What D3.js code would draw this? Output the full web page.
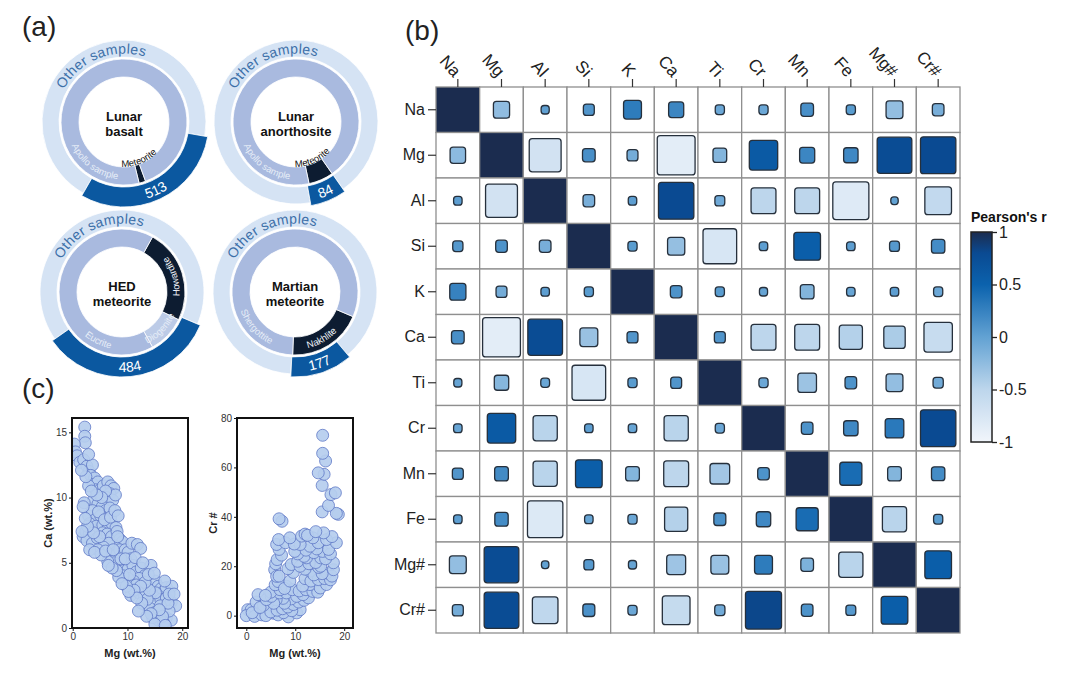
<!DOCTYPE html>
<html><head><meta charset="utf-8">
<script src="https://cdn.jsdelivr.net/npm/d3@7"></script>
<style>
body{margin:0;background:#fff;}
svg{font-family:Arial,"Liberation Sans",Helvetica,sans-serif;}
</style></head><body>
<svg id="c" width="1080" height="689"></svg>
<script>
// ---------------- DATA ----------------
// (a) donuts
const donutTitles = [["Lunar","basalt"],["Lunar","anorthosite"],["HED","meteorite"],["Martian","meteorite"]];
const outerCounts = ["513","84","484","177"];
const outerShare = [30.5, 6.9, 33.9, 11.9];          // % of outer ring taken by counted samples
const innerNames = [["Meteorite","Apollo sample"],["Meteorite","Apollo sample"],["Howardite","Diogenite","Eucrite"],["Nakhlite","Shergottite"]];
const innerShare = [[1.7,98.3],[6.4,93.6],[24.2,9.7,66.1],[19.2,80.8]];

// (b) correlation matrix
const vars = ["Na","Mg","Al","Si","K","Ca","Ti","Cr","Mn","Fe","Mg#","Cr#"];
const rNa  = [1, -0.25, 0.02, 0.1, 0.3, 0.22, -0.05, -0.05, 0.15, 0.05, -0.27, -0.12];
const rMg  = [-0.23, 1, -0.7, 0.15, -0.1, -0.87, -0.18, 0.6, 0.22, 0.2, 0.78, 0.8];
const rAl  = [0.03, -0.7, 1, -0.12, 0.03, 0.8, -0.07, -0.5, -0.5, -0.82, 0.0, -0.55];
const rSi  = [0.08, 0.12, -0.12, 1, 0.05, -0.28, -0.75, 0.03, 0.55, 0.03, 0.07, 0.17];
const rK   = [0.25, -0.1, 0.03, 0.05, 1, 0.12, 0.05, -0.02, -0.18, -0.03, 0.03, -0.05];
const rCa  = [0.15, -0.87, 0.78, -0.3, 0.1, 1, 0.1, -0.5, -0.5, -0.45, -0.4, -0.6];
const rTi  = [-0.02, -0.2, -0.04, -0.75, 0.05, 0.1, 1, -0.05, -0.32, 0.12, -0.27, -0.08];
const rCr  = [-0.03, 0.6, -0.48, 0.03, -0.03, -0.48, -0.05, 1, 0.12, 0.2, 0.32, 0.8];
const rMn  = [0.1, 0.18, -0.48, 0.55, -0.18, -0.5, -0.35, 0.12, 1, 0.42, -0.18, 0.17];
const rFe  = [0.03, 0.17, -0.8, -0.03, -0.05, -0.45, 0.13, 0.2, 0.42, 1, -0.48, 0.05];
const rMgN = [-0.27, 0.78, 0.0, 0.07, -0.02, -0.33, -0.3, 0.3, -0.15, -0.48, 1, 0.55];
const rCrN = [-0.1, 0.78, -0.52, 0.13, -0.05, -0.58, -0.08, 0.82, 0.12, 0.07, 0.55, 1];
const corr = [rNa,rMg,rAl,rSi,rK,rCa,rTi,rCr,rMn,rFe,rMgN,rCrN];
const cbTicks = [1, 0.5, 0, -0.5, -1];
const cbTickLabels = ["1","0.5","0","-0.5","-1"];

// (c) scatter data: [Mg, Ca] and [Mg, Cr#]
const mgCa = [[2.2,15.4],[2.2,14.7],[2.3,14.2],[0.3,14.1],[0.5,13.5],[0.8,13.2],[1.3,12.7],[2.0,12.9],[2.6,12.4],[3.0,12.0],[3.6,12.5],[3.3,11.7],[4.0,11.5],[3.7,11.0],[4.6,11.2],[4.2,10.6],[5.0,10.6],[5.6,10.9],[6.4,11.2],[7.0,10.9],[7.5,10.7],[6.8,10.3],[6.2,10.0],[7.3,9.8],[7.8,10.2],[3.8,9.8],[2.1,9.6],[4.6,9.5],[5.4,9.3],[6.0,9.0],[6.8,9.2],[2.9,8.6],[3.6,9.0],[4.1,8.3],[5.1,8.6],[3.1,8.0],[4.3,7.8],[5.5,7.9],[6.5,7.7],[7.2,8.0],[7.9,7.7],[1.9,7.0],[2.4,7.4],[3.0,7.2],[2.6,6.7],[3.6,6.5],[4.5,6.9],[5.5,7.3],[6.3,7.2],[7.1,7.0],[8.1,7.4],[8.6,6.8],[9.1,6.6],[7.6,6.3],[6.6,6.5],[5.6,6.2],[4.6,6.0],[3.1,6.0],[7.0,5.6],[8.0,5.6],[8.6,6.0],[9.6,6.0],[10.1,5.8],[10.8,6.5],[11.8,6.4],[12.4,6.1],[10.6,5.3],[9.1,5.1],[7.6,5.0],[6.4,5.1],[8.6,4.6],[9.3,4.4],[10.1,4.5],[11.0,4.8],[11.6,4.3],[12.5,4.6],[13.1,4.0],[12.1,3.8],[11.1,3.6],[10.1,3.8],[9.2,4.0],[8.4,3.9],[11.6,3.3],[10.6,2.5],[12.1,2.7],[13.1,2.4],[14.3,4.8],[13.6,3.3],[14.6,3.0],[15.1,3.6],[15.6,3.2],[16.1,3.0],[16.6,2.8],[17.1,3.1],[18.1,3.2],[14.6,2.5],[15.1,2.0],[16.1,2.2],[17.1,2.3],[18.0,2.0],[18.8,1.7],[13.1,1.8],[14.1,1.5],[15.1,1.2],[16.1,1.0],[17.1,0.8],[18.0,0.6],[15.6,0.6],[16.6,0.4],[14.6,0.8],[17.6,1.3],[16.0,1.7],[15.1,2.7],[13.6,2.2],[12.6,1.9],[16.4,0.9],[17.4,1.9],[14.0,2.9],[13.2,3.5],[12.4,3.2],[11.2,2.9],[9.8,3.2],[10.4,4.1],[8.8,5.3],[5.2,5.6],[4.0,5.8],[6.0,5.9],[7.4,6.0],[4.9,7.0],[3.8,7.3],[2.7,7.8],[1.7,7.4],[2.3,8.4],[1.9,9.3],[4.7,8.9],[5.8,8.3],[6.9,8.5],[7.7,9.0],[8.3,8.6],[6.0,10.5],[5.3,10.0],[4.4,10.2],[2.9,10.9],[2.4,11.6],[1.6,12.1],[2.9,13.3],[8.2,7.0],[9.6,5.3],[11.4,5.4],[12.8,5.0],[13.8,4.1],[14.9,4.2],[16.8,3.6],[17.6,2.6],[18.5,2.6],[15.8,1.4],[14.3,1.1],[13.5,0.9],[15.0,0.3],[16.9,0.2],[12.0,1.3],[11.7,2.3],[10.2,2.8],[9.0,3.4],[8.0,4.4],[7.2,4.6],[6.5,4.8],[3.4,10.5]];
const mgCr = [[0.3,2.4],[1.0,2.4],[2.4,1.0],[3.4,2.4],[4.5,2.4],[5.5,1.0],[6.8,4.5],[8.6,-0.5],[10.3,1.1],[11.0,2.4],[4.1,5.1],[4.8,3.8],[0.0,0.0],[1.7,-0.3],[3.2,0.3],[4.0,0.0],[6.5,0.3],[7.6,1.2],[9.3,2.0],[2.0,5.5],[1.2,1.2],[5.0,1.5],[6.3,2.2],[7.4,2.8],[8.5,3.5],[9.6,4.5],[10.7,5.5],[11.8,6.2],[12.7,7.2],[9.2,6.8],[7.8,5.0],[3.5,4.2],[2.8,3.3],[7.5,7.0],[6.1,6.5],[5.6,5.0],[2.4,8.5],[4.1,6.5],[5.1,7.8],[6.8,9.2],[8.2,9.2],[10.3,7.8],[11.6,8.5],[5.0,9.5],[3.9,8.2],[6.9,10.5],[8.2,11.9],[9.4,10.5],[10.8,10.0],[12.2,10.5],[13.6,9.8],[14.6,9.5],[13.0,12.6],[15.1,11.2],[16.4,12.6],[11.5,12.0],[5.9,12.5],[6.5,13.8],[7.8,11.0],[8.9,14.0],[12.0,15.0],[13.2,14.0],[14.7,14.6],[16.0,15.0],[17.2,14.5],[5.8,18.6],[6.2,15.9],[6.7,16.0],[9.6,17.5],[8.5,19.0],[13.0,18.0],[13.8,16.5],[16.4,17.3],[17.5,16.0],[15.5,17.0],[12.0,18.8],[9.2,20.7],[11.0,20.0],[6.0,21.0],[14.8,19.5],[15.2,20.0],[17.8,18.6],[17.8,21.4],[10.5,22.0],[12.8,21.0],[14.2,21.5],[6.3,22.7],[12.3,23.4],[15.2,23.4],[16.2,23.0],[11.8,24.0],[7.2,24.5],[10.5,25.0],[13.8,25.5],[15.6,26.0],[17.2,25.0],[9.9,26.0],[6.7,26.8],[12.2,26.5],[16.8,26.8],[14.4,27.0],[13.0,28.1],[11.0,28.8],[6.2,28.8],[8.0,29.5],[9.8,29.0],[14.7,29.5],[18.4,29.5],[6.6,30.8],[8.9,31.5],[16.4,30.8],[13.6,31.5],[11.3,32.2],[12.0,33.0],[12.5,32.5],[17.5,32.0],[15.8,33.5],[14.2,34.0],[7.3,38.2],[6.7,39.2],[18.8,41.0],[18.4,41.4],[15.5,42.0],[16.8,44.6],[17.3,49.0],[18.2,49.7],[15.5,52.7],[15.9,57.2],[14.7,57.8],[16.2,62.6],[15.6,65.7],[15.6,73.0]];
const caTicks = [0,5,10,15];
const crTicks = [0,20,40,60,80];
const mgTicks = [0,10,20];

// ---------------- DRAW ----------------
const svg = d3.select("#c");
const deg = Math.PI/180;

// panel labels
[["(a)",22,36],["(b)",405,40],["(c)",22,398]].forEach(([t,x,y])=>{
  svg.append("text").attr("x",x).attr("y",y).attr("font-size",28).attr("fill","#222").text(t);
});

// ---- (a) donuts ----
const centers = [[124,122],[296,122],[122,292],[295,292]];
const outerStartDeg = [100,145,113,140];
const innerStartDeg = [160,145,29,113];
const innerLabelPos = [
  [{a:158,r:45,c:"#111"},{a:216}],
  [{a:156,r:45,c:"#111"},{a:216}],
  [{a:73,c:"#f2f5fa"},{a:134},{a:206}],
  [{a:150,c:"#f2f5fa"},{a:228}]
];
const innerColor = n => (n==="Meteorite"||n==="Howardite"||n==="Nakhlite") ? "#0d1c31" : (n==="Diogenite" ? "#bccbe7" : "#a9badf");
const countAngle = [155,157,174,161];

function curved(g,id,text,cDeg,r,ccw,fs,fill,weight,ls){
  const span=170;
  const a0 = ccw ? cDeg+span/2 : cDeg-span/2;
  const a1 = ccw ? cDeg-span/2 : cDeg+span/2;
  const p = a=>[r*Math.sin(a*deg), -r*Math.cos(a*deg)];
  const [x0,y0]=p(a0),[x1,y1]=p(a1);
  g.append("path").attr("id",id).attr("d",`M${x0},${y0}A${r},${r} 0 0 ${ccw?0:1} ${x1},${y1}`).attr("fill","none");
  g.append("text").attr("font-size",fs).attr("fill",fill).attr("font-weight",weight||"normal").attr("letter-spacing",ls||0)
    .append("textPath").attr("href","#"+id).attr("startOffset","50%").attr("text-anchor","middle").text(text);
}

donutTitles.forEach((title,i)=>{
  const g = svg.append("g").attr("transform",`translate(${centers[i][0]},${centers[i][1]})`);
  const oS = outerStartDeg[i]*deg;
  const oPie = d3.pie().sort(null).value(d=>d.v).startAngle(oS).endAngle(oS+2*Math.PI);
  const oArcs = oPie([{k:"sel",v:outerShare[i]},{k:"other",v:100-outerShare[i]}]);
  oArcs.slice().reverse().forEach(a=>{
    const sel = a.data.k==="sel";
    g.append("path").attr("d",d3.arc().innerRadius(65).outerRadius(sel?85:82)(a))
      .attr("fill", sel?"#0b58a0":"#d5e3f4").attr("stroke","#fff").attr("stroke-width",0.8);
  });
  const iS = innerStartDeg[i]*deg;
  const iPie = d3.pie().sort(null).value(d=>d.v).startAngle(iS).endAngle(iS+2*Math.PI);
  const iArcs = iPie(innerNames[i].map((n,j)=>({n, v:innerShare[i][j]})));
  iArcs.forEach(a=>{
    g.append("path").attr("d",d3.arc().innerRadius(45).outerRadius(63)(a))
      .attr("fill", innerColor(a.data.n)).attr("stroke","#fff").attr("stroke-width",0.8);
  });
  // labels
  curved(g,`os${i}`,"Other samples",-22,68.5,false,14,"#3c6fa8",null,0.3);
  curved(g,`cnt${i}`,outerCounts[i],countAngle[i],80,true,14,"#ffffff");
  innerNames[i].forEach((n,j)=>{
    const L = innerLabelPos[i][j];
    curved(g,`in${i}_${j}`,n,L.a,L.r||57.5,true,9.5,L.c||"#e6edf7");
  });
  g.append("text").attr("text-anchor","middle").attr("y",-1).attr("font-size",13).attr("font-weight","bold").attr("fill","#111").text(title[0]);
  g.append("text").attr("text-anchor","middle").attr("y",14).attr("font-size",13).attr("font-weight","bold").attr("fill","#111").text(title[1]);
});

// ---- (b) heatmap ----
const xB = d3.scaleBand().domain(vars).range([436,960]);
const yB = d3.scaleBand().domain(vars).range([87,633]);
const color = d3.scaleLinear().domain([-1,-0.5,0,0.5,0.8,1])
  .range(["#f1f5fb","#bdd6ec","#62a2d3","#0b62ad","#0a4a92","#1b2c4f"]).interpolate(d3.interpolateRgb);
const sizeF = d3.scaleLinear().domain([0,1]).range([0.17,0.97]);
const hm = svg.append("g");
const cells = [];
corr.forEach((row,i)=>row.forEach((r,j)=>cells.push({i,j,r})));
hm.selectAll("rect.cell").data(cells).join("rect").attr("class","cell")
  .attr("x",d=>xB(vars[d.j])).attr("y",d=>yB(vars[d.i]))
  .attr("width",xB.bandwidth()).attr("height",yB.bandwidth())
  .attr("fill",d=>d.i===d.j?"#1b2c4f":"#fff").attr("stroke","#8f8f8f").attr("stroke-width",1.3);
hm.selectAll("rect.sq").data(cells.filter(d=>d.i!==d.j)).join("rect").attr("class","sq")
  .each(function(d){
    const f=sizeF(Math.abs(d.r)), w=f*xB.bandwidth(), h=f*yB.bandwidth();
    d3.select(this).attr("x",xB(vars[d.j])+(xB.bandwidth()-w)/2).attr("y",yB(vars[d.i])+(yB.bandwidth()-h)/2)
      .attr("width",w).attr("height",h);
  })
  .attr("rx",3).attr("fill",d=>color(d.r)).attr("stroke","#26303c").attr("stroke-width",1.3);

// axes
const yAx = svg.append("g").attr("transform","translate(436,0)")
  .call(d3.axisLeft(yB).tickSize(8).tickPadding(3));
yAx.select(".domain").remove();
yAx.selectAll("line").attr("stroke","#333").attr("stroke-width",1.2);
yAx.selectAll("text").attr("font-size",16).attr("fill","#222").attr("font-family","Arial, Liberation Sans, sans-serif");
const xAx = svg.append("g").attr("transform","translate(0,87)")
  .call(d3.axisTop(xB).tickSize(8).tickPadding(3));
xAx.select(".domain").remove();
xAx.selectAll("line").attr("stroke","#333").attr("stroke-width",1.2);
xAx.selectAll("text").attr("font-size",17).attr("fill","#222").attr("font-family","Arial, Liberation Sans, sans-serif")
  .attr("text-anchor","end").attr("transform","translate(0,-13) rotate(48)").attr("y",0).attr("dy","0.35em").attr("x",0);

// colorbar
const cbY = d3.scaleLinear().domain([-1,1]).range([442,232]);
const defs = svg.append("defs");
const grad = defs.append("linearGradient").attr("id","cbg").attr("x1",0).attr("y1",1).attr("x2",0).attr("y2",0);
d3.range(0,1.0001,0.05).forEach(t=>grad.append("stop").attr("offset",t).attr("stop-color",color(-1+2*t)));
svg.append("rect").attr("x",971).attr("y",232).attr("width",21).attr("height",210).attr("fill","url(#cbg)").attr("stroke","#222").attr("stroke-width",1.5);
const cbAx = svg.append("g").attr("transform","translate(992,0)")
  .call(d3.axisRight(cbY).tickValues(cbTicks).tickFormat((d,k)=>cbTickLabels[k]).tickSize(5).tickPadding(2));
cbAx.select(".domain").remove();
cbAx.selectAll("line").attr("stroke","#222").attr("stroke-width",1.3);
cbAx.selectAll("text").attr("font-size",16).attr("fill","#222").attr("font-family","Arial, Liberation Sans, sans-serif");
svg.append("text").attr("x",971).attr("y",222).attr("font-size",14).attr("font-weight","bold").attr("fill","#111").text("Pearson's r");

// ---- (c) scatters ----
function scatter(data, box, xDom, yDom, yTicks, yLabel, id){
  const x = d3.scaleLinear().domain(xDom).range([box.x0,box.x1]);
  const y = d3.scaleLinear().domain(yDom).range([box.y1,box.y0]);
  svg.append("clipPath").attr("id",id).append("rect").attr("x",box.x0).attr("y",box.y0).attr("width",box.x1-box.x0).attr("height",box.y1-box.y0);
  svg.append("g").attr("clip-path",`url(#${id})`).selectAll("circle").data(data).join("circle")
    .attr("cx",d=>x(d[0])).attr("cy",d=>y(d[1])).attr("r",6)
    .attr("fill","#b5cdee").attr("fill-opacity",0.92).attr("stroke","#5f78c6").attr("stroke-width",0.8);
  svg.append("rect").attr("x",box.x0).attr("y",box.y0).attr("width",box.x1-box.x0).attr("height",box.y1-box.y0)
    .attr("fill","none").attr("stroke","#111").attr("stroke-width",2);
  const ax = svg.append("g").attr("transform",`translate(0,${box.y1})`).call(d3.axisBottom(x).tickValues(mgTicks).tickSize(3).tickPadding(2));
  const ay = svg.append("g").attr("transform",`translate(${box.x0},0)`).call(d3.axisLeft(y).tickValues(yTicks).tickSize(3).tickPadding(2));
  [ax,ay].forEach(a=>{a.select(".domain").remove(); a.selectAll("line").attr("stroke","#111");
    a.selectAll("text").attr("font-size",10).attr("fill","#333").attr("font-family","Arial, Liberation Sans, sans-serif");});
  svg.append("text").attr("x",(box.x0+box.x1)/2).attr("y",657).attr("text-anchor","middle").attr("font-size",11).attr("font-weight","bold").attr("fill","#222").text("Mg (wt.%)");
  svg.append("text").attr("transform",`translate(${box.x0-20},${(box.y0+box.y1)/2}) rotate(-90)`).attr("text-anchor","middle").attr("font-size",11).attr("font-weight","bold").attr("fill","#222").text(yLabel);
}
scatter(mgCa,{x0:72,x1:188,y0:418,y1:628},[-0.13,21.05],[0,16.1],caTicks,"Ca (wt.%)","clipA");
scatter(mgCr,{x0:237,x1:353,y0:418,y1:628},[-1.9,21.8],[-5,80],crTicks,"Cr #","clipB");
</script>
</body></html>
